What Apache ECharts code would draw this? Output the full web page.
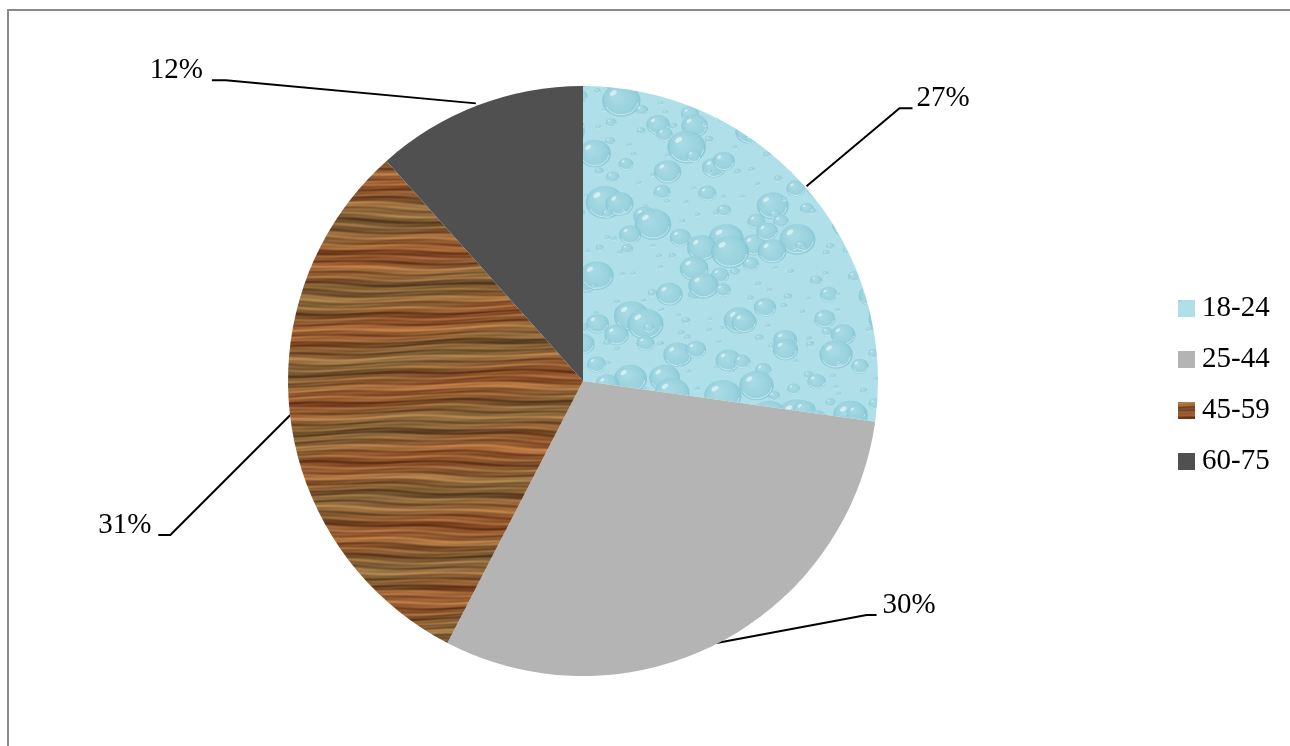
<!DOCTYPE html>
<html><head><meta charset="utf-8">
<script src="https://cdn.jsdelivr.net/npm/echarts@6/dist/echarts.min.js"></script>
<style>html,body{margin:0;padding:0;background:#fff}#c{width:1290px;height:746px}</style>
</head><body><div id="c"></div>
<script>
// ---- data (slice sizes; label texts as printed) ----
const categories = ['18-24', '25-44', '45-59', '60-75'];
const values = [27.2, 30.4, 30.8, 11.6];
const valueLabels = ['27%', '30%', '31%', '12%'];

// ---- styling: textures ----
const W = 1290, H = 746;
function hash(a, b) { const s = Math.sin(a * 127.1 + b * 311.7) * 43758.5453; return s - Math.floor(s); }
function waterCanvas() {
  const c = document.createElement('canvas'); c.width = W; c.height = H;
  const x = c.getContext('2d');
  x.fillStyle = '#afdfe8'; x.fillRect(0, 0, W, H);
  const step = 19;
  for (let j = 0; j < H / step + 1; j++) for (let i = 0; i < W / step + 1; i++) {
    const h1 = hash(i, j), h2 = hash(i + 7.3, j + 1.1), h3 = hash(i + 2.9, j + 5.7);
    const r = 2.5 + h3 * h3 * h3 * 17;
    const cx = i * step + h1 * step, cy = j * step + h2 * step;
    const g = x.createRadialGradient(cx - r * 0.3, cy - r * 0.3, r * 0.1, cx, cy, r);
    g.addColorStop(0, 'rgba(168,218,228,0.9)');
    g.addColorStop(0.75, 'rgba(150,208,220,0.9)');
    g.addColorStop(1, 'rgba(128,194,210,0.8)');
    x.fillStyle = g; x.beginPath(); x.ellipse(cx, cy, r, r * 0.85, 0, 0, Math.PI * 2); x.fill();
    x.strokeStyle = 'rgba(220,244,248,0.7)'; x.lineWidth = 1;
    x.beginPath(); x.ellipse(cx, cy, r * 0.88, r * 0.75, 0, 0.15, Math.PI * 0.85); x.stroke();
    x.fillStyle = 'rgba(240,252,253,0.6)';
    x.beginPath(); x.ellipse(cx - r * 0.42, cy - r * 0.38, r * 0.2, r * 0.12, -0.6, 0, Math.PI * 2); x.fill();
  }
  return c;
}
function woodCanvas() {
  const c = document.createElement('canvas'); c.width = W; c.height = H;
  const ctx = c.getContext('2d');
  const img = ctx.createImageData(W, H);
  const dark = [92, 52, 24], light = [186, 132, 76];
  for (let y = 0; y < H; y++) for (let x = 0; x < W; x++) {
    const w = y + 2.5 * Math.sin(x * 0.013 + y * 0.02) + 1.2 * Math.sin(x * 0.045 + y * 0.11);
    let t = 0.5 + 0.24 * Math.sin(w * 0.62) + 0.17 * Math.sin(w * 0.21 + 1.7) + 0.12 * Math.sin(w * 1.73 + 0.5)
      + 0.08 * Math.sin(x * 0.07 + w * 0.9) + 0.06 * Math.sin(x * 0.021 - w * 0.33);
    t = Math.max(0, Math.min(1, t));
    const red = Math.sin(w * 0.09 + x * 0.01);
    const k = (y * W + x) * 4;
    img.data[k] = dark[0] + (light[0] - dark[0]) * t + 8 * red;
    img.data[k + 1] = dark[1] + (light[1] - dark[1]) * t - 4 * red;
    img.data[k + 2] = dark[2] + (light[2] - dark[2]) * t - 4 * red;
    img.data[k + 3] = 255;
  }
  ctx.putImageData(img, 0, 0);
  return c;
}
const sliceColors = [
  { image: waterCanvas(), repeat: 'no-repeat' },
  '#b4b4b4',
  { image: woodCanvas(), repeat: 'no-repeat' },
  '#505050'
];
// label leader geometry (relative to library-computed edge point)
const labelGeom = [
  { start: [1, -1], bend: [94, -79], run: 13, gap: 4 },
  { start: [-2, 0], bend: [148, -28], run: 10, gap: 6 },
  { start: [0, -3], bend: [-120, 117], run: -12, gap: 7 },
  { start: [-2, -2], bend: [-252, -25], run: -14, gap: 9 }
];

const chart = echarts.init(document.getElementById('c'), null, { renderer: 'canvas' });
const serif = 'Liberation Serif, Times New Roman, serif';
chart.setOption({
  animation: false,
  backgroundColor: '#fff',
  graphic: [{
    type: 'rect', silent: true, z: -10,
    shape: { x: 8, y: 10, width: 1400, height: 900 },
    style: { fill: 'transparent', stroke: '#8a8a8a', lineWidth: 2 }
  }],
  legend: {
    orient: 'vertical', left: 1173, top: 289, itemGap: 22,
    itemWidth: 17, itemHeight: 17, icon: 'rect',
    data: categories,
    textStyle: { fontFamily: serif, fontSize: 29, color: '#000', lineHeight: 29, padding: [0, 0, 0, 2] },
    selectedMode: false
  },
  series: [{
    type: 'pie',
    center: [583, 381], radius: 295,
    startAngle: 90, clockwise: true,
    avoidLabelOverlap: false,
    emphasis: { disabled: true },
    itemStyle: { borderWidth: 0 },
    label: {
      show: true, position: 'outside',
      fontFamily: serif, fontSize: 29, color: '#000',
      formatter: p => valueLabels[p.dataIndex]
    },
    labelLine: { show: true, length: 30, length2: 15, smooth: false, lineStyle: { color: '#000', width: 2 } },
    labelLayout: function (params) {
      const g = labelGeom[params.dataIndex];
      const e = params.labelLinePoints[0];
      const p0 = [e[0] + g.start[0], e[1] + g.start[1]];
      const p1 = [e[0] + g.bend[0], e[1] + g.bend[1]];
      const p2 = [p1[0] + g.run, p1[1]];
      const right = g.run > 0;
      return {
        x: p2[0] + (right ? g.gap : -g.gap), y: p1[1] - 10,
        align: right ? 'left' : 'right', verticalAlign: 'middle',
        labelLinePoints: [p0, p1, p2]
      };
    },
    data: categories.map((n, i) => ({ name: n, value: values[i], itemStyle: { color: sliceColors[i] } }))
  }]
});
</script></body></html>
